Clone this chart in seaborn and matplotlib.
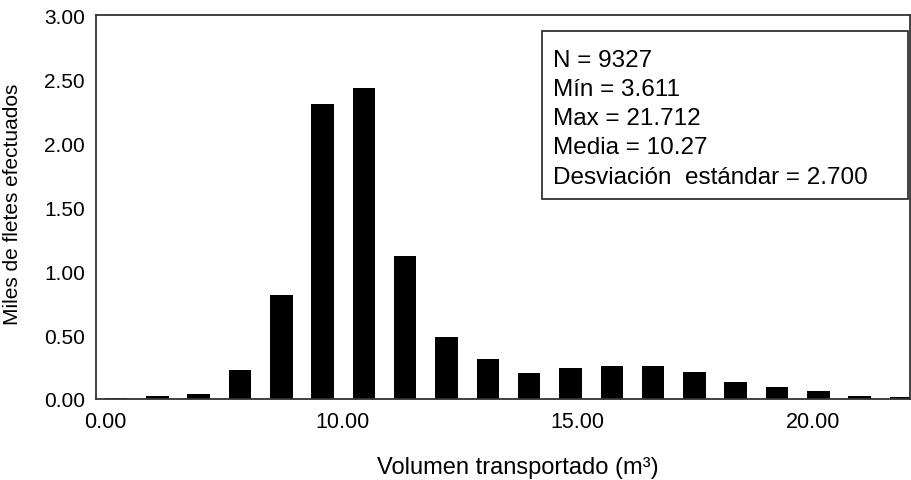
import matplotlib
matplotlib.use("Agg")
import matplotlib.pyplot as plt
import matplotlib.patches as mpatches
import seaborn as sns
import pandas as pd

# histogram bins (thousands of trips per bin)
bin_index = list(range(20))
miles_fletes = [0.01, 0.02, 0.04, 0.225, 0.815, 2.305, 2.43, 1.12, 0.488, 0.31,
                0.205, 0.244, 0.254, 0.254, 0.212, 0.134, 0.095, 0.059, 0.027, 0.014]

x_tick_labels = ["0.00", "10.00", "15.00", "20.00"]
y_ticks = [0.0, 0.5, 1.0, 1.5, 2.0, 2.5, 3.0]

stats_lines = ["N = 9327", "Mín = 3.611", "Max = 21.712",
               "Media = 10.27", "Desviación  estándar = 2.700"]

sns.set_style("white")
plt.rcParams['font.family'] = ['Liberation Sans', 'DejaVu Sans']
plt.rcParams['text.color'] = 'black'
plt.rcParams['axes.labelcolor'] = 'black'
plt.rcParams['xtick.color'] = 'black'
plt.rcParams['ytick.color'] = 'black'

df = pd.DataFrame({"bin": bin_index, "miles": miles_fletes})

fig = plt.figure(figsize=(9.11, 4.81), dpi=100)
ax = fig.add_axes([0.1054, 0.1684, 0.8936, 0.7983])

sns.barplot(data=df, x="bin", y="miles", color="black", width=0.545,
            saturation=1, ax=ax)
for p in ax.patches:
    p.set_facecolor("black")
    p.set_edgecolor("none")

ax.set_xlim(-0.484, 19.22)
ax.set_ylim(0, 3.0)

# tick label positions in bin units (as laid out in the original chart)
ax.set_xticks([-0.27, 5.47, 11.16, 16.88], x_tick_labels)
ax.set_yticks(y_ticks, [f"{v:.2f}" for v in y_ticks])
ax.tick_params(axis="x", length=0, pad=9, labelsize=15.5)
ax.tick_params(axis="y", length=0, pad=8, labelsize=15)

for s in ax.spines.values():
    s.set_visible(True)
    s.set_color("#333333")
    s.set_linewidth(1.3)

ax.set_xlabel("Volumen transportado (m³)", fontsize=17)
ax.set_ylabel("Miles de fletes efectuados", fontsize=15)
ax.xaxis.set_label_coords(0.518, -0.148)
ax.yaxis.set_label_coords(-0.091, 0.51)

# statistics box
box = mpatches.Rectangle((0.548, 0.521), 0.4495, 0.437, transform=ax.transAxes,
                         facecolor="white", edgecolor="#222222", linewidth=1.2)
ax.add_patch(box)
for i, line in enumerate(stats_lines):
    ax.text(0.5614, 0.868 - i * 0.0762, line, transform=ax.transAxes,
            fontsize=17.5, va="baseline", ha="left")

fig.savefig("out.png", dpi=100)
